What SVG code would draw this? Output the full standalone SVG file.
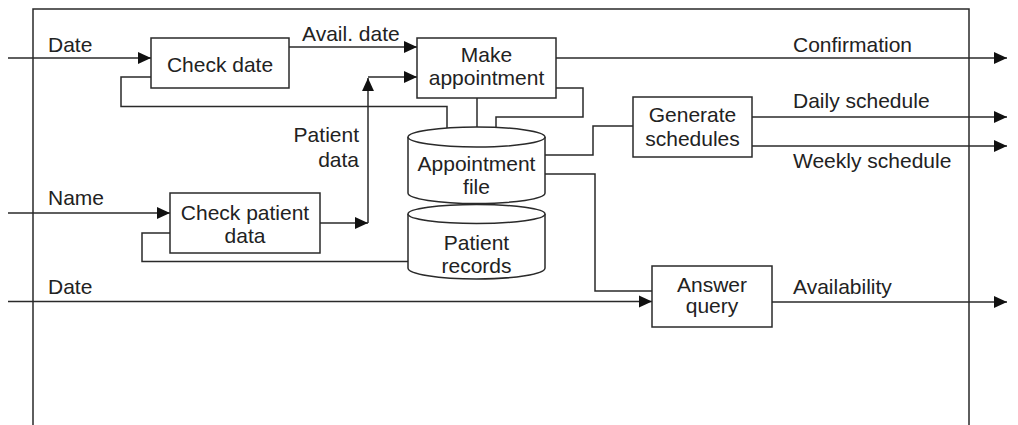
<svg xmlns="http://www.w3.org/2000/svg" width="1018" height="425" viewBox="0 0 1018 425">
<style>
.ln{fill:none;stroke:#2a2a2a;stroke-width:1.5}
.arr{marker-end:url(#ah)}
.bx{fill:#fff;stroke:#2a2a2a;stroke-width:1.5}
text{font-family:"Liberation Sans",Arial,sans-serif;font-size:21px;fill:#222}
.c{text-anchor:middle}
.e{text-anchor:end}
</style>
<defs>
<marker id="ah" markerUnits="userSpaceOnUse" markerWidth="13" markerHeight="13" viewBox="0 0 12 12" refX="12" refY="6" orient="auto">
<path d="M0,0.5 L12,6 L0,11.5 Z" fill="#111"/>
</marker>
</defs>
<rect width="1018" height="425" fill="#fff"/>
<path class="ln" d="M33,425 L33,9 L969,9 L969,425" stroke-width="1.7"/>
<g id="connectors">
<path class="ln arr" d="M8,58 L151,58"/>
<text x="48" y="52">Date</text>
<path class="ln arr" d="M289,47 L417,47"/>
<text x="302" y="41">Avail. date</text>
<path class="ln arr" d="M556,58 L1007,58"/>
<text x="793" y="52">Confirmation</text>
<path class="ln" d="M151,77 L121,77 L121,106.5 L447,106.5 L447,130"/>
<path class="ln" d="M477,98 L477,130"/>
<path class="ln" d="M556,88 L583,88 L583,117 L496,117 L496,130"/>
<path class="ln arr" d="M8,213 L170,213"/>
<text x="48" y="205">Name</text>
<path class="ln arr" d="M320,223 L368,223"/>
<path class="ln arr" d="M368,223 L368,78"/>
<path class="ln arr" d="M368,77 L417,77"/>
<text class="e" x="359" y="142">Patient</text>
<text class="e" x="359" y="167">data</text>
<path class="ln" d="M170,233 L142,233 L142,261.5 L410,261.5"/>
<path class="ln" d="M545,155 L593,155 L593,126 L633,126"/>
<path class="ln arr" d="M752,117 L1007,117"/>
<text x="793" y="108">Daily schedule</text>
<path class="ln arr" d="M752,146 L1007,146"/>
<text x="793" y="168">Weekly schedule</text>
<path class="ln" d="M545,174 L595,174 L595,291 L652,291"/>
<path class="ln arr" d="M8,301.5 L652,301.5"/>
<text x="48" y="294">Date</text>
<path class="ln arr" d="M772,302 L1007,302"/>
<text x="793" y="294">Availability</text>
</g>
<g id="check-date">
<rect class="bx" x="151" y="38" width="138" height="50"/>
<text class="c" x="220" y="72">Check date</text>
</g>
<g id="make-appointment">
<rect class="bx" x="417" y="38" width="139" height="60"/>
<text class="c" x="486.5" y="62">Make</text>
<text class="c" x="486.5" y="85">appointment</text>
</g>
<g id="appointment-file">
<path class="bx" d="M408,137 L408,193 A68.5,10.5 0 0 0 545,193 L545,137"/>
<ellipse class="bx" cx="476.5" cy="137" rx="68.5" ry="10"/>
<text class="c" x="476.5" y="171">Appointment</text>
<text class="c" x="476.5" y="194">file</text>
</g>
<g id="patient-records">
<path class="bx" d="M408,214 L408,268 A68.5,11 0 0 0 545,268 L545,214"/>
<ellipse class="bx" cx="476.5" cy="214" rx="68.5" ry="9.5"/>
<text class="c" x="476.5" y="250">Patient</text>
<text class="c" x="476.5" y="273">records</text>
</g>
<g id="check-patient-data">
<rect class="bx" x="170" y="193" width="150" height="60"/>
<text class="c" x="245" y="220">Check patient</text>
<text class="c" x="245" y="243">data</text>
</g>
<g id="generate-schedules">
<rect class="bx" x="633" y="97" width="119" height="60"/>
<text class="c" x="692.5" y="122">Generate</text>
<text class="c" x="692.5" y="146">schedules</text>
</g>
<g id="answer-query">
<rect class="bx" x="652" y="266" width="120" height="61"/>
<text class="c" x="712" y="292">Answer</text>
<text class="c" x="712" y="313">query</text>
</g>
</svg>
